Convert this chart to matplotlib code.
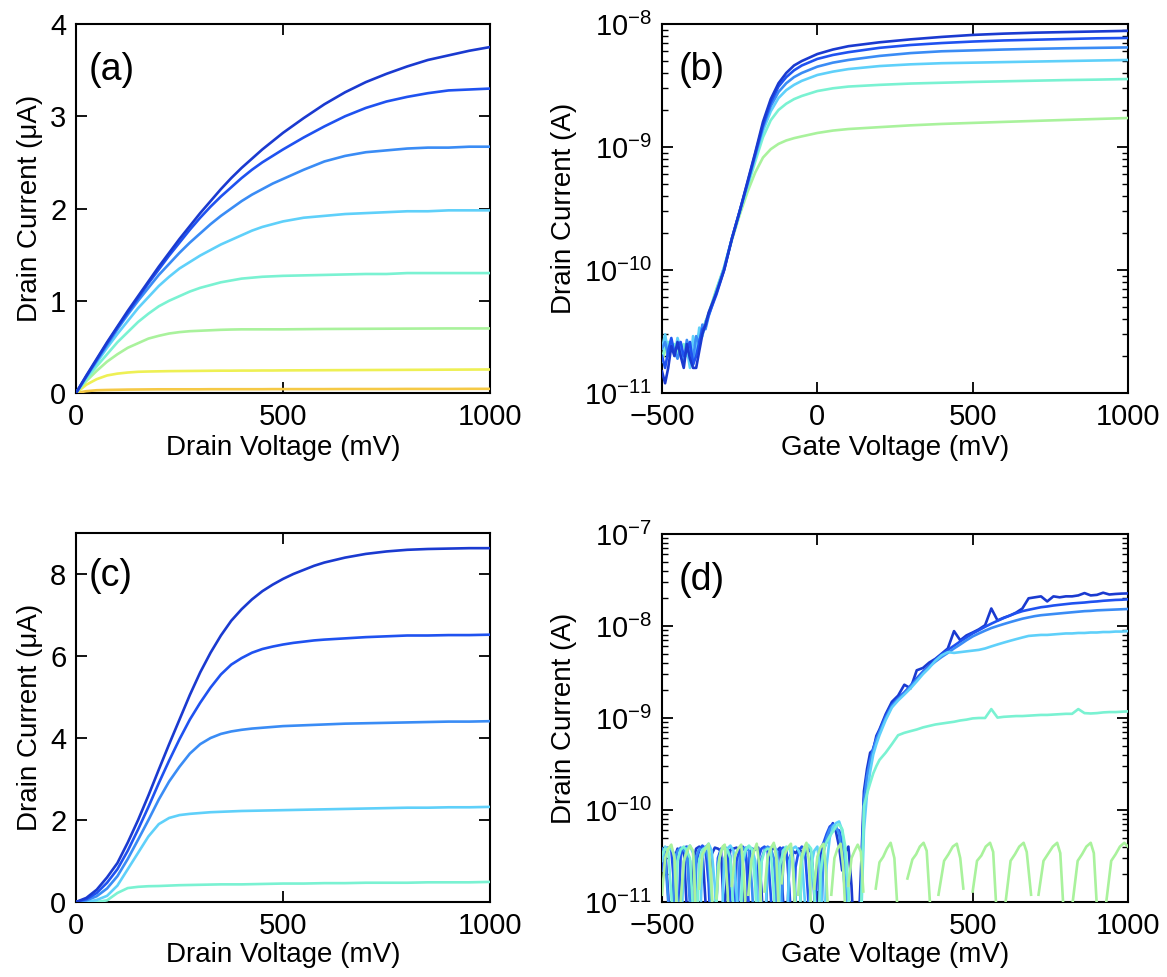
import numpy as np
import matplotlib
matplotlib.use("Agg")
import matplotlib.pyplot as plt
from matplotlib.ticker import LogLocator, LogFormatterSciNotation, NullFormatter

plt.rcParams['font.family'] = ['Liberation Sans', 'DejaVu Sans']
plt.rcParams['mathtext.fontset'] = 'custom'
plt.rcParams['mathtext.rm'] = 'Liberation Sans'
plt.rcParams['mathtext.it'] = 'Liberation Sans:italic'
plt.rcParams['mathtext.bf'] = 'Liberation Sans:bold'

# ---------------- colours (one per gate-voltage step) ----------------
COLORS = ['#1a3ad0', '#1f52f0', '#3a8cf5', '#5fd0fa', '#7af2d2', '#a9f29c', '#eef054', '#f5c945']

# ---------------- (a) output characteristics, device 1 (uA) ----------------
VD_A = [0, 25, 50, 75, 100, 125, 150, 175, 200, 225, 250, 275, 300, 325, 350, 375, 400, 425, 450, 475, 500,
        550, 600, 650, 700, 750, 800, 850, 900, 950, 1000]
ID_A = [
    [0, 0.19, 0.37, 0.55, 0.72, 0.89, 1.05, 1.21, 1.37, 1.52, 1.67, 1.81, 1.95, 2.08, 2.21, 2.33, 2.44, 2.54, 2.64, 2.73, 2.82,
     2.98, 3.13, 3.26, 3.37, 3.46, 3.54, 3.61, 3.66, 3.71, 3.75],
    [0, 0.18, 0.36, 0.54, 0.71, 0.87, 1.03, 1.19, 1.34, 1.49, 1.63, 1.77, 1.90, 2.02, 2.13, 2.23, 2.33, 2.42, 2.50, 2.57, 2.64,
     2.77, 2.89, 3.00, 3.09, 3.16, 3.21, 3.25, 3.28, 3.29, 3.30],
    [0, 0.18, 0.35, 0.52, 0.69, 0.85, 1.00, 1.14, 1.28, 1.40, 1.52, 1.63, 1.73, 1.83, 1.92, 2.00, 2.08, 2.15, 2.21, 2.27, 2.32,
     2.42, 2.51, 2.57, 2.61, 2.63, 2.65, 2.66, 2.66, 2.67, 2.67],
    [0, 0.17, 0.33, 0.49, 0.64, 0.78, 0.92, 1.04, 1.16, 1.26, 1.35, 1.42, 1.49, 1.55, 1.61, 1.66, 1.71, 1.76, 1.80, 1.83, 1.86,
     1.90, 1.92, 1.94, 1.95, 1.96, 1.97, 1.97, 1.98, 1.98, 1.98],
    [0, 0.15, 0.29, 0.42, 0.55, 0.66, 0.77, 0.86, 0.94, 1.00, 1.05, 1.10, 1.14, 1.17, 1.20, 1.22, 1.24, 1.25, 1.26, 1.265, 1.27,
     1.275, 1.28, 1.285, 1.29, 1.29, 1.30, 1.30, 1.30, 1.30, 1.30],
    [0, 0.13, 0.24, 0.34, 0.42, 0.49, 0.54, 0.59, 0.62, 0.645, 0.66, 0.67, 0.675, 0.68, 0.685, 0.688, 0.69, 0.69, 0.69, 0.69, 0.69,
     0.692, 0.694, 0.695, 0.696, 0.697, 0.698, 0.699, 0.70, 0.70, 0.70],
    [0, 0.09, 0.15, 0.19, 0.21, 0.222, 0.23, 0.233, 0.235, 0.237, 0.238, 0.239, 0.24, 0.241, 0.242, 0.242, 0.243, 0.243, 0.244, 0.244, 0.245,
     0.246, 0.247, 0.248, 0.249, 0.25, 0.251, 0.252, 0.253, 0.254, 0.255],
    [0, 0.02, 0.03, 0.033, 0.035, 0.037, 0.038, 0.039, 0.04, 0.04, 0.04, 0.04, 0.04, 0.041, 0.041, 0.041, 0.041, 0.041, 0.041, 0.042, 0.042,
     0.042, 0.042, 0.043, 0.043, 0.043, 0.044, 0.044, 0.044, 0.045, 0.045],
]

# ---------------- (b) transfer characteristics, device 1 (A) ----------------
VG_B = [-500, -490, -480, -470, -460, -450, -440, -430, -420, -410, -400, -390, -380, -370, -360, -350,
        -325, -300, -275, -250, -225, -200, -175, -150, -125, -100, -75, -50,
        0, 50, 100, 200, 300, 400, 500, 600, 700, 800, 900, 1000]
ID_B = [
    [1.5e-11, 1.2e-11, 1.6e-11, 2.4e-11, 2.0e-11, 2.6e-11, 2.0e-11, 1.6e-11, 2.5e-11, 1.9e-11, 1.6e-11, 1.6e-11, 2.2e-11, 3.0e-11, 3.6e-11, 4.5e-11,
     6.5e-11, 1.0e-10, 1.8e-10, 3.0e-10, 5.2e-10, 9.0e-10, 1.6e-9, 2.45e-9, 3.3e-9, 4.0e-9, 4.6e-9, 5.0e-9,
     5.7e-9, 6.2e-9, 6.6e-9, 7.1e-9, 7.5e-9, 7.85e-9, 8.15e-9, 8.35e-9, 8.5e-9, 8.6e-9, 8.7e-9, 8.8e-9],
    [2.0e-11, 1.6e-11, 2.2e-11, 2.8e-11, 2.1e-11, 2.4e-11, 2.6e-11, 2.0e-11, 2.2e-11, 2.6e-11, 1.7e-11, 2.0e-11, 2.6e-11, 3.3e-11, 3.5e-11, 4.3e-11,
     6.3e-11, 1.0e-10, 1.8e-10, 3.0e-10, 5.1e-10, 8.8e-10, 1.5e-9, 2.3e-9, 3.1e-9, 3.7e-9, 4.2e-9, 4.6e-9,
     5.2e-9, 5.6e-9, 5.9e-9, 6.4e-9, 6.75e-9, 7.0e-9, 7.2e-9, 7.35e-9, 7.45e-9, 7.55e-9, 7.65e-9, 7.7e-9],
    [2.3e-11, 2.6e-11, 2.0e-11, 2.5e-11, 2.2e-11, 1.9e-11, 2.4e-11, 1.8e-11, 2.7e-11, 2.2e-11, 1.9e-11, 2.9e-11, 2.5e-11, 3.6e-11, 3.3e-11, 4.2e-11,
     6.6e-11, 1.02e-10, 1.8e-10, 3.0e-10, 5.0e-10, 8.5e-10, 1.45e-9, 2.15e-9, 2.8e-9, 3.3e-9, 3.7e-9, 4.0e-9,
     4.5e-9, 4.85e-9, 5.1e-9, 5.5e-9, 5.8e-9, 6.0e-9, 6.1e-9, 6.2e-9, 6.28e-9, 6.35e-9, 6.4e-9, 6.45e-9],
    [2.3e-11, 3.0e-11, 2.1e-11, 2.7e-11, 2.0e-11, 2.8e-11, 2.3e-11, 1.8e-11, 2.3e-11, 1.6e-11, 2.9e-11, 2.1e-11, 3.4e-11, 2.9e-11, 3.8e-11, 4.3e-11,
     6.8e-11, 1.05e-10, 1.8e-10, 3.0e-10, 4.9e-10, 8.2e-10, 1.35e-9, 1.95e-9, 2.5e-9, 2.9e-9, 3.2e-9, 3.45e-9,
     3.85e-9, 4.1e-9, 4.3e-9, 4.55e-9, 4.7e-9, 4.8e-9, 4.85e-9, 4.9e-9, 4.95e-9, 5.0e-9, 5.05e-9, 5.1e-9],
    [1.9e-11, 2.4e-11, 2.6e-11, 2.2e-11, 2.5e-11, 2.1e-11, 2.3e-11, 2.5e-11, 2.0e-11, 2.4e-11, 1.7e-11, 2.6e-11, 3.1e-11, 3.0e-11, 3.7e-11, 4.4e-11,
     6.8e-11, 1.05e-10, 1.8e-10, 2.9e-10, 4.7e-10, 7.6e-10, 1.2e-9, 1.65e-9, 2.0e-9, 2.25e-9, 2.45e-9, 2.6e-9,
     2.85e-9, 3.0e-9, 3.1e-9, 3.2e-9, 3.28e-9, 3.33e-9, 3.38e-9, 3.42e-9, 3.46e-9, 3.5e-9, 3.53e-9, 3.57e-9],
    [1.8e-11, 2.2e-11, 2.3e-11, 2.4e-11, 2.3e-11, 2.3e-11, 2.2e-11, 2.1e-11, 2.2e-11, 2.0e-11, 1.8e-11, 2.4e-11, 2.8e-11, 3.2e-11, 3.8e-11, 4.4e-11,
     7.0e-11, 1.05e-10, 1.75e-10, 2.8e-10, 4.3e-10, 6.2e-10, 8.2e-10, 9.6e-10, 1.06e-9, 1.13e-9, 1.18e-9, 1.22e-9,
     1.3e-9, 1.36e-9, 1.4e-9, 1.45e-9, 1.5e-9, 1.54e-9, 1.57e-9, 1.6e-9, 1.63e-9, 1.66e-9, 1.69e-9, 1.72e-9],
]

# ---------------- (c) output characteristics, device 2 (uA) ----------------
VD_C = [0, 25, 50, 75, 100, 125, 150, 175, 200, 225, 250, 275, 300, 325, 350, 375, 400, 425, 450, 475, 500,
        525, 550, 575, 600, 650, 700, 750, 800, 850, 900, 950, 1000]
ID_C = [
    [0, 0.10, 0.30, 0.60, 0.95, 1.45, 2.00, 2.60, 3.23, 3.85, 4.45, 5.05, 5.60, 6.08, 6.50, 6.86, 7.14, 7.38, 7.58, 7.74, 7.88,
     8.00, 8.10, 8.20, 8.28, 8.40, 8.49, 8.55, 8.59, 8.61, 8.62, 8.63, 8.63],
    [0, 0.07, 0.22, 0.47, 0.80, 1.25, 1.77, 2.32, 2.90, 3.45, 3.97, 4.45, 4.86, 5.23, 5.55, 5.79, 5.95, 6.08, 6.17, 6.23, 6.28,
     6.32, 6.35, 6.38, 6.40, 6.43, 6.46, 6.48, 6.50, 6.50, 6.51, 6.51, 6.52],
    [0, 0.04, 0.14, 0.33, 0.63, 1.05, 1.52, 2.00, 2.50, 2.94, 3.30, 3.62, 3.85, 4.00, 4.10, 4.16, 4.20, 4.23, 4.25, 4.27, 4.29,
     4.30, 4.31, 4.32, 4.33, 4.35, 4.36, 4.37, 4.38, 4.39, 4.40, 4.40, 4.41],
    [0, 0.00, 0.05, 0.15, 0.40, 0.80, 1.20, 1.60, 1.90, 2.05, 2.12, 2.15, 2.17, 2.19, 2.20, 2.21, 2.22, 2.225, 2.23, 2.235, 2.24,
     2.245, 2.25, 2.255, 2.26, 2.27, 2.28, 2.29, 2.30, 2.30, 2.31, 2.31, 2.32],
    [0, 0.00, 0.00, 0.04, 0.22, 0.34, 0.37, 0.385, 0.39, 0.40, 0.41, 0.415, 0.42, 0.425, 0.43, 0.43, 0.43, 0.435, 0.44, 0.445, 0.45,
     0.45, 0.45, 0.455, 0.46, 0.46, 0.47, 0.47, 0.47, 0.48, 0.48, 0.48, 0.49],
]
VD_C_OFF = [0, 1000]
ID_C_OFF = [0.0, 0.0]

# ---------------- (d) transfer characteristics, device 2 (pA) ----------------
VG_D_OFF = np.arange(-500, 140, 10)
ID_D_OFF = [
    [35, 38, 12, 3, 30, 38, 36, 38, 8, 3,
     28, 38, 40, 37, 10, 3, 33, 39, 38, 36,
     7, 20, 37, 38, 39, 36, 12, 3, 30, 38,
     37, 39, 14, 3, 25, 37, 38, 36, 39, 10,
     3, 30, 36, 34, 38, 35, 33, 38, 35, 15,
     3, 33, 38, 45, 60, 72, 58, 40, 22, 35,
     40, 15, 3, 3],
    [22, 36, 39, 37, 14, 3, 32, 39, 40, 20,
     3, 26, 37, 41, 38, 16, 3, 3, 30, 38,
     39, 36, 10, 3, 28, 38, 40, 35, 8, 3,
     3, 30, 38, 40, 36, 12, 3, 28, 37, 39,
     38, 14, 3, 24, 36, 40, 37, 12, 3, 3,
     28, 37, 44, 55, 66, 70, 62, 60, 45, 25,
     8, 3, 3, 5],
    [38, 32, 10, 3, 25, 36, 39, 37, 33, 9,
     3, 31, 38, 36, 40, 28, 6, 3, 27, 37,
     40, 38, 32, 9, 3, 30, 38, 39, 36, 14,
     3, 3, 29, 37, 40, 38, 30, 9, 3, 26,
     38, 39, 37, 11, 3, 30, 38, 40, 35, 12,
     3, 3, 35, 50, 62, 68, 66, 55, 30, 12,
     3, 3, 4, 6],
    [28, 40, 37, 38, 33, 9, 3, 27, 38, 41,
     34, 10, 3, 30, 39, 43, 36, 15, 3, 3,
     29, 38, 41, 36, 12, 3, 26, 37, 40, 38,
     28, 7, 3, 3, 31, 39, 42, 35, 10, 3,
     3, 28, 38, 40, 36, 30, 10, 3, 25, 36,
     40, 22, 3, 25, 50, 65, 72, 75, 60, 30,
     10, 3, 3, 5],
    [33, 38, 36, 12, 3, 28, 37, 40, 36, 30,
     8, 3, 29, 37, 39, 37, 12, 3, 24, 36,
     39, 37, 30, 8, 3, 3, 30, 38, 41, 37,
     15, 3, 27, 36, 38, 37, 12, 3, 25, 36,
     40, 38, 30, 9, 3, 28, 37, 42, 38, 14,
     3, 20, 36, 45, 52, 58, 66, 70, 62, 40,
     15, 3, 3, 4],
]
VG_D_ON = [140, 150, 160, 170, 180, 190,
           200, 220, 240, 260, 280, 300, 320, 340, 360, 380,
           400, 420, 440, 460, 480, 500, 520, 540, 560, 580,
           600, 620, 640, 660, 680, 700, 720, 740, 760, 780,
           800, 820, 840, 860, 880, 900, 920, 940, 960, 980,
           1000]
ID_D_ON = [
    [20, 160, 280, 420, 450, 640,
     750, 1100, 1500, 1750, 2300, 2100, 3300, 3500, 4000, 4400,
     5000, 5700, 8800, 7000, 7900, 8500, 9200, 10200, 15500, 11500,
     12300, 13000, 14000, 15500, 20000, 20500, 21000, 18500, 21000, 20500,
     21000, 21000, 21500, 22800, 21500, 21800, 23000, 22000, 22300, 22500,
     22600],
    [10, 130, 240, 360, 470, 600,
     730, 1050, 1400, 1650, 1900, 2250, 2700, 3200, 3700, 4300,
     4900, 5500, 6100, 6800, 7500, 8300, 9000, 9800, 10600, 11400,
     12200, 13000, 13800, 14500, 15000, 15500, 16000, 16300, 16700, 17000,
     17300, 17600, 17800, 18000, 18300, 18500, 18800, 19000, 19200, 19300,
     19500],
    [8, 120, 230, 340, 450, 580,
     700, 1000, 1350, 1600, 1850, 2200, 2600, 3100, 3600, 4100,
     4600, 5100, 5700, 6300, 7000, 7700, 8300, 8900, 9500, 10000,
     10500, 11000, 11500, 12000, 12400, 12800, 13100, 13300, 13500, 13700,
     13900, 14100, 14300, 14500, 14600, 14800, 14900, 15000, 15100, 15200,
     15300],
    [5, 60, 150, 260, 400, 520,
     650, 950, 1300, 1550, 1800, 2100, 2500, 3000, 3500, 4200,
     4800, 5200, 5100, 5200, 5300, 5400, 5500, 5700, 6000, 6300,
     6600, 6900, 7200, 7500, 7800, 7900, 8000, 8000, 8100, 8200,
     8300, 8300, 8400, 8400, 8500, 8500, 8600, 8600, 8700, 8700,
     8800],
    [6, 110, 150, 195, 250, 300,
     350, 420, 520, 650, 690, 720, 750, 790, 820, 850,
     870, 890, 910, 940, 960, 990, 1000, 1000, 1250, 1010,
     1030, 1040, 1050, 1050, 1060, 1070, 1080, 1080, 1090, 1100,
     1110, 1110, 1250, 1130, 1120, 1130, 1150, 1160, 1160, 1170,
     1180],
]
NAN = float('nan')
# lowest gate-voltage step: device stays off, only the noise floor is recorded
VG_D_FLOOR = [-500, -490, -480, -470, -460, -452, -445,
              -440, -430, -420, -410, -400, -392, -385,
              -380, -370, -360, -350, -342, -336, -330,
              -325, -315, -305, -298, -290, -284, -280,
              -275, -265, -255, -245, -237, -230, -226,
              -222, -212, -202, -195, -187, -180, -176,
              -170, -160, -150, -140, -132, -125, -120,
              -115, -105, -95, -85, -77, -70, -66,
              -62, -52, -44, -35, -27, -20, -16,
              -10, 0, 10, 20, 28, 35, 39,
              45, 55, 65, 75, 83, 90, 94,
              100, 110, 120, 130, 140, 148, 155,
              188, 200, 212, 224, 236, 248, 262, 268,
              290, 306, 318, 330, 342, 352, 368, 374,
              390, 408, 422, 436, 449, 460, 470, 474,
              500, 514, 528, 542, 556, 566, 580, 586,
              606, 622, 636, 650, 664, 674, 688, 692,
              712, 728, 742, 758, 772, 782, 796, 802,
              822, 838, 852, 866, 880, 890, 904, 910,
              930, 946, 960, 974, 988, 1000]
ID_D_FLOOR = [12, 30, 38, 42, 30, 8, NAN,
              10, 28, 35, 41, 36, 9, NAN,
              14, 33, 38, 43, 20, 7, NAN,
              11, 30, 40, 42, 15, 6, NAN,
              15, 32, 38, 42, 22, 7, NAN,
              12, 29, 37, 43, 25, 8, NAN,
              13, 31, 38, 44, 30, 9, NAN,
              16, 33, 39, 43, 20, 6, NAN,
              12, 30, 38, 44, 28, 8, NAN,
              14, 31, 39, 43, 22, 7, NAN,
              12, 30, 38, 43, 25, 8, NAN,
              15, 30, 36, 42, 35, 13, NAN,
              14, 27, 31, 38, 44, 30, 5, NAN,
              18, 29, 33, 40, 44, 36, 5, NAN,
              12, 28, 33, 40, 43, 30, 14, NAN,
              13, 28, 32, 40, 44, 35, 5, NAN,
              10, 28, 33, 40, 44, 35, 12, NAN,
              12, 28, 33, 40, 44, 34, 5, NAN,
              10, 28, 33, 40, 44, 34, 5, NAN,
              10, 28, 33, 40, 44, 40]

# ---------------- layout (figure pixels) ----------------
W, H = 1167, 977
fig = plt.figure(figsize=(W / 100, H / 100), dpi=100)


def add_axes(x0, y0, x1, y1):
    return fig.add_axes([x0 / W, 1 - y1 / H, (x1 - x0) / W, (y1 - y0) / H])


ax_a = add_axes(76, 24, 490, 393)
ax_b = add_axes(662, 24, 1128, 393)
ax_c = add_axes(76, 533, 490, 902)
ax_d = add_axes(662, 534, 1128, 902)

LW = 1.9
TICK_FS = 21
LABEL_FS = 20
PANEL_FS = 27


def style(ax, log=False):
    for s in ax.spines.values():
        s.set_linewidth(1.5)
    ax.tick_params(which='major', direction='in', top=True, right=True,
                   length=8, width=1.3, labelsize=TICK_FS, pad=7)
    if log:
        ax.tick_params(which='minor', direction='in', left=True, right=True,
                       length=4, width=1.0)
        ax.yaxis.set_major_locator(LogLocator(base=10, numticks=10))
        ax.yaxis.set_minor_locator(LogLocator(base=10, subs=np.arange(2, 10), numticks=20))
        ax.yaxis.set_major_formatter(LogFormatterSciNotation())
        ax.yaxis.set_minor_formatter(NullFormatter())


# (a)
for k, y in enumerate(ID_A):
    ax_a.plot(VD_A, y, color=COLORS[k], lw=LW, zorder=10 - k)
ax_a.set_xlim(0, 1000)
ax_a.set_ylim(0, 4)
ax_a.set_xticks([0, 500, 1000])
ax_a.set_yticks([0, 1, 2, 3, 4])
ax_a.set_xlabel('Drain Voltage (mV)', fontsize=LABEL_FS, labelpad=3)
ax_a.set_ylabel('Drain Current (\u03bcA)', fontsize=LABEL_FS, labelpad=5)
style(ax_a)
ax_a.text(0.03, 0.875, '(a)', transform=ax_a.transAxes, fontsize=PANEL_FS, va='center', ha='left')

# (b)
for k, y in enumerate(ID_B):
    ax_b.plot(VG_B, y, color=COLORS[k], lw=LW, zorder=10 - k)
ax_b.set_yscale('log')
ax_b.set_xlim(-500, 1000)
ax_b.set_ylim(1e-11, 1e-8)
ax_b.set_xticks([-500, 0, 500, 1000])
ax_b.set_xlabel('Gate Voltage (mV)', fontsize=LABEL_FS, labelpad=3)
ax_b.set_ylabel('Drain Current (A)', fontsize=LABEL_FS, labelpad=5)
style(ax_b, log=True)
ax_b.text(0.035, 0.875, '(b)', transform=ax_b.transAxes, fontsize=PANEL_FS, va='center', ha='left')

# (c)
for k, y in enumerate(ID_C):
    ax_c.plot(VD_C, y, color=COLORS[k], lw=LW, zorder=10 - k)
for k in (7, 6, 5):
    ax_c.plot(VD_C_OFF, ID_C_OFF, color=COLORS[k], lw=LW, zorder=2)
ax_c.set_xlim(0, 1000)
ax_c.set_ylim(0, 9)
ax_c.set_xticks([0, 500, 1000])
ax_c.set_yticks([0, 2, 4, 6, 8])
ax_c.set_xlabel('Drain Voltage (mV)', fontsize=LABEL_FS, labelpad=2)
ax_c.set_ylabel('Drain Current (\u03bcA)', fontsize=LABEL_FS, labelpad=5)
style(ax_c)
ax_c.text(0.03, 0.883, '(c)', transform=ax_c.transAxes, fontsize=PANEL_FS, va='center', ha='left')

# (d)
PA = 1e-12
for k in range(5):
    v = np.concatenate([VG_D_OFF, VG_D_ON])
    i = np.concatenate([ID_D_OFF[k], ID_D_ON[k]]) * PA
    ax_d.plot(v, i, color=COLORS[k], lw=LW, zorder=3 + k)
ax_d.plot(VG_D_FLOOR, np.array(ID_D_FLOOR) * PA, color=COLORS[5], lw=LW, zorder=9)
ax_d.set_yscale('log')
ax_d.set_xlim(-500, 1000)
ax_d.set_ylim(1e-11, 1e-7)
ax_d.set_xticks([-500, 0, 500, 1000])
ax_d.set_xlabel('Gate Voltage (mV)', fontsize=LABEL_FS, labelpad=2)
ax_d.set_ylabel('Drain Current (A)', fontsize=LABEL_FS, labelpad=5)
style(ax_d, log=True)
ax_d.text(0.035, 0.875, '(d)', transform=ax_d.transAxes, fontsize=PANEL_FS, va='center', ha='left')

fig.savefig('out.png', dpi=100)
